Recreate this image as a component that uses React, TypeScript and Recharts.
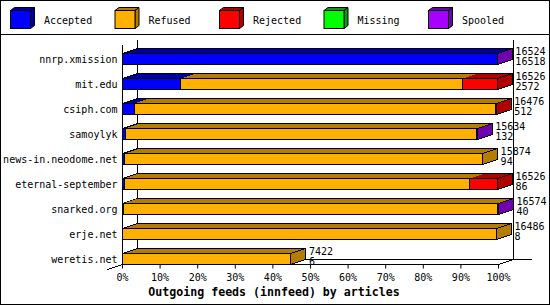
import React from 'react';
import { BarChart, Bar, XAxis, YAxis } from 'recharts';

// innfeed outgoing feeds, article counts per peer
const hosts = [
  'nnrp.xmission',
  'mit.edu',
  'csiph.com',
  'samoylyk',
  'news-in.neodome.net',
  'eternal-september',
  'snarked.org',
  'erje.net',
  'weretis.net',
];
const accepted = [16518, 2572, 512, 132, 94, 86, 40, 8, 6];
const refused = [0, 12420, 15944, 15492, 15780, 15210, 16474, 16478, 7416];
const rejected = [0, 1534, 20, 0, 0, 1230, 0, 0, 0];
const missing = [0, 0, 0, 0, 0, 0, 0, 0, 0];
const spooled = [6, 0, 0, 10, 0, 0, 60, 0, 0];

const seriesKeys = ['accepted', 'refused', 'rejected', 'missing', 'spooled'];
const seriesNames = ['Accepted', 'Refused', 'Rejected', 'Missing', 'Spooled'];
const frontColors = ['#0000ff', '#ffb000', '#ff0000', '#00ff00', '#a800ff'];
const darkColors = ['#0000a0', '#b47d00', '#b00000', '#00a000', '#7000b0'];
const xTicks = [0, 10, 20, 30, 40, 50, 60, 70, 80, 90, 100];
const title = 'Outgoing feeds (innfeed) by articles';

const counts = [accepted, refused, rejected, missing, spooled];
const totals = hosts.map((_, i) => counts.reduce((sum, arr) => sum + arr[i], 0));
const maxTotal = Math.max(...totals);

const data = hosts.map((host, i) => {
  const row: any = { host, total: totals[i], acc: accepted[i] };
  let last = 0;
  counts.forEach((arr, s) => {
    row[seriesKeys[s]] = (arr[i] / maxTotal) * 100;
    if (arr[i] > 0) last = s;
  });
  row.last = seriesKeys[last];
  return row;
});

// layout
const W = 550;
const H = 305;
const PL = 122.5;
const PR = 498.5;
const PT = 39.5;
const PB = 264.5;
const DX = 15;
const DY = 5;
const BAR = 11;
const BAND = (PB - PT) / hosts.length;
const MONO = '"DejaVu Sans Mono", monospace';

const makeShape = (s: number) => (props: any) => {
  const { x, y, width, height, payload } = props;
  if (!(width > 0)) return <g />;
  const top = y + (BAND - height) / 2;
  const bot = top + height;
  const right = x + width;
  const isFirst = Math.abs(x - PL) < 0.5;
  const isLast = payload.last === seriesKeys[s];
  return (
    <g shapeRendering="crispEdges">
      <polygon
        points={`${x},${top} ${right},${top} ${right + DX},${top - DY} ${x + DX},${top - DY}`}
        fill={darkColors[s]}
      />
      <line x1={x + DX} y1={top - DY} x2={right + DX} y2={top - DY} stroke="#000" />
      {isFirst && <line x1={x} y1={top} x2={x + DX} y2={top - DY} stroke="#000" />}
      <rect x={x} y={top} width={width} height={height} fill={frontColors[s]} stroke="#000" />
      {isLast && (
        <polygon
          points={`${right},${top} ${right + DX},${top - DY} ${right + DX},${bot - DY} ${right},${bot}`}
          fill={darkColors[s]}
          stroke="#000"
        />
      )}
      {isLast && (
        <g fontFamily={MONO} fontSize={10} fill="#000" shapeRendering="auto">
          <text x={right + DX + 3} y={top + 1}>{payload.total}</text>
          <text x={right + DX + 3} y={bot}>{payload.acc}</text>
        </g>
      )}
    </g>
  );
};

const HostTick = (props: any) => (
  <text
    x={props.x - 5}
    y={props.y + (BAND - BAR) / 2}
    dy="0.35em"
    textAnchor="end"
    fontFamily={MONO}
    fontSize={10}
    fill="#000"
  >
    {props.payload.value}
  </text>
);

function Frame() {
  return (
    <svg width={W} height={H} style={{ position: 'absolute', left: 0, top: 0 }}>
      <rect x={0.5} y={0.5} width={W - 1} height={H - 1} fill="#fff" stroke="#000" />
      <line x1={0} y1={34.5} x2={W} y2={34.5} stroke="#000" />
      {seriesNames.map((name, i) => {
        const bx = 10.5 + i * 104.5;
        return (
          <g key={name}>
            <polygon
              points={`${bx},10.5 ${bx + 20},10.5 ${bx + 24},7.5 ${bx + 4},7.5`}
              fill={darkColors[i]}
              stroke="#000"
            />
            <polygon
              points={`${bx + 20},10.5 ${bx + 24},7.5 ${bx + 24},25.5 ${bx + 20},28.5`}
              fill={darkColors[i]}
              stroke="#000"
            />
            <rect x={bx} y={10.5} width={20} height={18} fill={frontColors[i]} stroke="#000" />
            <text x={bx + 33.5} y={24} fontFamily={MONO} fontSize={10} fill="#000">
              {name}
            </text>
          </g>
        );
      })}
      <g stroke="#000" shapeRendering="crispEdges">
        <line x1={PL} y1={PT + DY} x2={PL} y2={PB} />
        <line x1={PL + DX} y1={PT} x2={PL + DX} y2={PB - DY} />
        <line x1={PR + DX} y1={PT} x2={PR + DX} y2={PB - DY} />
        <line x1={PL + DX} y1={PB - DY} x2={PR + DX + 18} y2={PB - DY} />
        <line x1={PL - DX} y1={PB + DY} x2={PL + DX} y2={PB - DY} />
        <line x1={PR} y1={PB} x2={PR + DX} y2={PB - DY} />
      </g>
      <text
        x={274}
        y={295.5}
        textAnchor="middle"
        fontFamily={MONO}
        fontWeight="bold"
        fontSize={11.6}
        fill="#000"
      >
        {title}
      </text>
    </svg>
  );
}

export default function App() {
  return (
    <div style={{ position: 'absolute', left: 0, top: 0, width: W, height: H }}>
      <Frame />
      <div style={{ position: 'absolute', left: 0, top: 0 }}>
        <BarChart
          width={W}
          height={H}
          data={data}
          layout="vertical"
          barSize={BAR}
          margin={{ top: PT, right: W - PR, bottom: 0, left: 8 }}
        >
          <XAxis
            type="number"
            domain={[0, 100]}
            ticks={xTicks}
            interval={0}
            tickFormatter={(v: number) => `${v}%`}
            height={H - PB}
            tickSize={4}
            tickMargin={5}
            axisLine={{ stroke: '#000' }}
            tickLine={{ stroke: '#000' }}
            tick={{ fill: '#000', fontSize: 10, fontFamily: MONO }}
          />
          <YAxis
            type="category"
            dataKey="host"
            width={PL - 8}
            interval={0}
            axisLine={false}
            tickLine={false}
            tickSize={0}
            tickMargin={0}
            tick={<HostTick />}
          />
          {seriesKeys.map((key, s) => (
            <Bar
              key={key}
              dataKey={key}
              name={seriesNames[s]}
              stackId="feeds"
              fill={frontColors[s]}
              shape={makeShape(s)}
              isAnimationActive={false}
            />
          ))}
        </BarChart>
      </div>
    </div>
  );
}
